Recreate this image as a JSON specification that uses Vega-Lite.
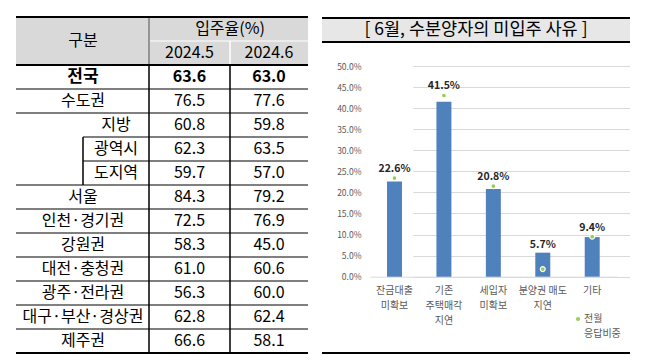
{
  "$schema": "https://vega.github.io/schema/vega-lite/v6.json",
  "padding": {"left": 15, "top": 16, "right": 0, "bottom": 0},
  "background": "white",
  "config": {
    "view": {"stroke": null},
    "font": "Noto Sans CJK KR",
    "style": {"guide-label": {"lineHeight": 15}},
    "axisY": {
      "title": null, "format": ".1%", "grid": true, "gridColor": "#d9d9d9", "domain": false,
      "ticks": false, "tickSize": 0, "labelPadding": 4, "offset": -43, "labelOverlap": false,
      "labelFontSize": 8.5, "labelColor": "#595959", "tickCount": 20
    },
    "axisX": {
      "title": null, "labelAngle": 0, "ticks": false, "tickSize": 0,
      "labelFontSize": 10, "labelColor": "#595959", "labelPadding": 9,
      "labelLineHeight": 15, "labelOverlap": false,
      "domainColor": "#d9d9d9", "offset": -75.3
    }
  },
  "datasets": {
    "regions": [
      {"구분": "전국", "m5": 63.6, "m6": 63.0, "lv": 0},
      {"구분": "수도권", "m5": 76.5, "m6": 77.6, "lv": 0},
      {"구분": "지방", "m5": 60.8, "m6": 59.8, "lv": 1},
      {"구분": "광역시", "m5": 62.3, "m6": 63.5, "lv": 2},
      {"구분": "도지역", "m5": 59.7, "m6": 57.0, "lv": 2},
      {"구분": "서울", "m5": 84.3, "m6": 79.2, "lv": 0},
      {"구분": "인천·경기권", "m5": 72.5, "m6": 76.9, "lv": 0},
      {"구분": "강원권", "m5": 58.3, "m6": 45.0, "lv": 0},
      {"구분": "대전·충청권", "m5": 61.0, "m6": 60.6, "lv": 0},
      {"구분": "광주·전라권", "m5": 56.3, "m6": 60.0, "lv": 0},
      {"구분": "대구·부산·경상권", "m5": 62.8, "m6": 62.4, "lv": 0},
      {"구분": "제주권", "m5": 66.6, "m6": 58.1, "lv": 0}
    ],
    "reasons": [
      {"cat": "잔금대출\n미확보", "v": 0.226, "p": 0.234},
      {"cat": "기존\n주택매각\n지연", "v": 0.415, "p": 0.43},
      {"cat": "세입자\n미확보", "v": 0.208, "p": 0.215},
      {"cat": "분양권 매도\n지연", "v": 0.057, "p": 0.018},
      {"cat": "기타", "v": 0.094, "p": 0.095}
    ]
  },
  "spacing": 13,
  "resolve": {"legend": {"color": "independent"}},
  "hconcat": [
    {
      "width": 292,
      "height": 336,
      "data": {"name": "regions"},
      "layer": [
        {
          "data": {"values": [{}]},
          "mark": {"type": "rect", "color": "#d9d9d9"},
          "encoding": {
            "x": {"datum": 0, "type": "quantitative", "axis": null,
                  "scale": {"domain": [0, 1, 2, 3, 4], "range": [0, 67, 133, 214, 292], "nice": false, "zero": false}},
            "x2": {"datum": 4},
            "y": {"datum": "h1", "type": "nominal", "axis": null,
                  "scale": {"domain": ["h1", "h2", "전국", "수도권", "지방", "광역시", "도지역", "서울", "인천·경기권", "강원권", "대전·충청권", "광주·전라권", "대구·부산·경상권", "제주권"], "paddingInner": 0, "paddingOuter": 0}}
          }
        },
        {
          "data": {"values": [{}]},
          "mark": {"type": "rect", "color": "#d9d9d9"},
          "encoding": {
            "x": {"datum": 0, "type": "quantitative"},
            "x2": {"datum": 4},
            "y": {"datum": "h2", "type": "nominal"}
          }
        },
        {
          "data": {"values": [{}]},
          "mark": {"type": "rule", "color": "white", "strokeWidth": 1},
          "encoding": {
            "x": {"datum": 2, "type": "quantitative"},
            "x2": {"datum": 4},
            "y": {"datum": "h2", "type": "nominal", "bandPosition": 0}
          }
        },
        {
          "data": {"values": [{}]},
          "mark": {"type": "rect", "fill": null, "stroke": "white", "strokeWidth": 1},
          "encoding": {
            "x": {"datum": 3, "type": "quantitative"},
            "x2": {"datum": 3},
            "y": {"datum": "h2", "type": "nominal"}
          }
        },
        {
          "data": {"values": [{"h": "h1"}, {"h": "h2"}]},
          "mark": {"type": "rect", "fill": null, "stroke": "#7f7f7f", "strokeWidth": 1},
          "encoding": {
            "x": {"datum": 2, "type": "quantitative"},
            "x2": {"datum": 2},
            "y": {"field": "h", "type": "nominal"}
          }
        },
        {
          "data": {"values": [{}]},
          "mark": {"type": "text", "text": "구분", "fontSize": 16, "color": "black", "baseline": "middle"},
          "encoding": {
            "x": {"datum": 1, "type": "quantitative"},
            "y": {"datum": "h2", "type": "nominal", "bandPosition": 0}
          }
        },
        {
          "data": {"values": [{}]},
          "mark": {"type": "text", "text": "입주율(%)", "fontSize": 16, "color": "black", "baseline": "middle"},
          "encoding": {
            "x": {"datum": 3, "type": "quantitative"},
            "y": {"datum": "h1", "type": "nominal"}
          }
        },
        {
          "data": {"values": [{}]},
          "mark": {"type": "text", "text": "2024.5", "fontSize": 16, "color": "black", "baseline": "middle"},
          "encoding": {
            "x": {"datum": 2.5, "type": "quantitative"},
            "y": {"datum": "h2", "type": "nominal"}
          }
        },
        {
          "data": {"values": [{}]},
          "mark": {"type": "text", "text": "2024.6", "fontSize": 16, "color": "black", "baseline": "middle"},
          "encoding": {
            "x": {"datum": 3.5, "type": "quantitative"},
            "y": {"datum": "h2", "type": "nominal"}
          }
        },
        {
          "data": {"values": [{}]},
          "mark": {"type": "rule", "color": "black", "strokeWidth": 2},
          "encoding": {
            "x": {"datum": 0, "type": "quantitative"},
            "x2": {"datum": 4},
            "y": {"datum": "h1", "type": "nominal", "bandPosition": 0}
          }
        },
        {
          "mark": {"type": "rect", "fill": null, "stroke": "black", "strokeWidth": 1},
          "encoding": {
            "x": {"datum": 2, "type": "quantitative"},
            "x2": {"datum": 2},
            "y": {"field": "구분", "type": "nominal"}
          }
        },
        {
          "mark": {"type": "rect", "fill": null, "stroke": "black", "strokeWidth": 1},
          "encoding": {
            "x": {"datum": 3, "type": "quantitative"},
            "x2": {"datum": 3},
            "y": {"field": "구분", "type": "nominal"}
          }
        },
        {
          "transform": [{"filter": "datum.lv === 2"}],
          "mark": {"type": "rect", "fill": null, "stroke": "black", "strokeWidth": 1},
          "encoding": {
            "x": {"datum": 1, "type": "quantitative"},
            "x2": {"datum": 1},
            "y": {"field": "구분", "type": "nominal"}
          }
        },
        {
          "transform": [{"filter": "datum.lv < 2 && datum['구분'] !== '전국'"}],
          "mark": {"type": "rule", "color": "black", "strokeWidth": 1},
          "encoding": {
            "x": {"datum": 0, "type": "quantitative"},
            "x2": {"datum": 4},
            "y": {"field": "구분", "type": "nominal", "bandPosition": 0}
          }
        },
        {
          "transform": [{"filter": "datum.lv === 2"}],
          "mark": {"type": "rule", "color": "black", "strokeWidth": 1},
          "encoding": {
            "x": {"datum": 1, "type": "quantitative"},
            "x2": {"datum": 4},
            "y": {"field": "구분", "type": "nominal", "bandPosition": 0}
          }
        },
        {
          "transform": [{"filter": "datum['구분'] === '전국'"}],
          "mark": {"type": "rule", "color": "black", "strokeWidth": 2},
          "encoding": {
            "x": {"datum": 0, "type": "quantitative"},
            "x2": {"datum": 4},
            "y": {"field": "구분", "type": "nominal", "bandPosition": 0}
          }
        },
        {
          "transform": [{"filter": "datum['구분'] === '제주권'"}],
          "mark": {"type": "rule", "color": "black", "strokeWidth": 2},
          "encoding": {
            "x": {"datum": 0, "type": "quantitative"},
            "x2": {"datum": 4},
            "y": {"field": "구분", "type": "nominal", "bandPosition": 1}
          }
        },
        {
          "transform": [{"filter": "datum.lv === 0 && datum['구분'] !== '전국'"}],
          "mark": {"type": "text", "fontSize": 16, "color": "black", "baseline": "middle"},
          "encoding": {
            "x": {"datum": 1, "type": "quantitative"},
            "y": {"field": "구분", "type": "nominal"},
            "text": {"field": "구분", "type": "nominal"}
          }
        },
        {
          "transform": [{"filter": "datum.lv > 0"}],
          "mark": {"type": "text", "fontSize": 16, "color": "black", "baseline": "middle"},
          "encoding": {
            "x": {"datum": 1.5, "type": "quantitative"},
            "y": {"field": "구분", "type": "nominal"},
            "text": {"field": "구분", "type": "nominal"}
          }
        },
        {
          "transform": [{"filter": "datum['구분'] === '전국'"}],
          "mark": {"type": "text", "fontSize": 17, "fontWeight": "bold", "color": "black", "baseline": "middle"},
          "encoding": {
            "x": {"datum": 1, "type": "quantitative"},
            "y": {"field": "구분", "type": "nominal"},
            "text": {"field": "구분", "type": "nominal"}
          }
        },
        {
          "transform": [{"filter": "datum['구분'] !== '전국'"}],
          "mark": {"type": "text", "fontSize": 16, "color": "black", "baseline": "middle"},
          "encoding": {
            "x": {"datum": 2.5, "type": "quantitative"},
            "y": {"field": "구분", "type": "nominal"},
            "text": {"field": "m5", "type": "quantitative", "format": ".1f"}
          }
        },
        {
          "transform": [{"filter": "datum['구분'] !== '전국'"}],
          "mark": {"type": "text", "fontSize": 16, "color": "black", "baseline": "middle"},
          "encoding": {
            "x": {"datum": 3.5, "type": "quantitative"},
            "y": {"field": "구분", "type": "nominal"},
            "text": {"field": "m6", "type": "quantitative", "format": ".1f"}
          }
        },
        {
          "transform": [{"filter": "datum['구분'] === '전국'"}],
          "mark": {"type": "text", "fontSize": 16, "fontWeight": "bold", "color": "black", "baseline": "middle"},
          "encoding": {
            "x": {"datum": 2.5, "type": "quantitative"},
            "y": {"field": "구분", "type": "nominal"},
            "text": {"field": "m5", "type": "quantitative", "format": ".1f"}
          }
        },
        {
          "transform": [{"filter": "datum['구분'] === '전국'"}],
          "mark": {"type": "text", "fontSize": 16, "fontWeight": "bold", "color": "black", "baseline": "middle"},
          "encoding": {
            "x": {"datum": 3.5, "type": "quantitative"},
            "y": {"field": "구분", "type": "nominal"},
            "text": {"field": "m6", "type": "quantitative", "format": ".1f"}
          }
        }
      ]
    },
    {
      "spacing": 0,
      "resolve": {"legend": {"color": "independent"}},
      "vconcat": [
        {
          "width": 308, "height": 2,
          "data": {"values": [{}]},
          "mark": {"type": "rect", "color": "black"},
          "encoding": {}
        },
        {
          "width": 308, "height": 22,
          "data": {"values": [{}]},
          "layer": [
            {"mark": {"type": "rect", "color": "#e7e7e7"}, "encoding": {}},
            {
              "mark": {"type": "text", "text": "[ 6월, 수분양자의   미입주   사유 ]", "fontSize": 17.5, "color": "black", "baseline": "middle"},
              "encoding": {}
            }
          ]
        },
        {
          "width": 308, "height": 2,
          "data": {"values": [{}]},
          "mark": {"type": "rect", "color": "black"},
          "encoding": {}
        },
        {
          "width": 308, "height": 309,
          "data": {"name": "reasons"},
          "encoding": {
            "x": {
              "field": "cat", "type": "nominal", "sort": null,
              "scale": {"range": [47.7, 295], "paddingInner": 0.697, "paddingOuter": 0.35},
              "axis": {"labelExpr": "split(datum.label, '\\n')"}
            }
          },
          "layer": [
            {
              "mark": {"type": "bar", "color": "#4f81bd"},
              "encoding": {
                "y": {
                  "field": "v", "type": "quantitative",
                  "scale": {"domain": [0, 0.5], "range": [233.7, 23], "nice": false},
                  "axis": {"values": [0, 0.05, 0.1, 0.15, 0.2, 0.25, 0.3, 0.35, 0.4, 0.45, 0.5], "tickCount": 20}
                }
              }
            },
            {
              "mark": {"type": "point", "filled": true, "stroke": "white", "strokeWidth": 1.2, "size": 24, "opacity": 1},
              "encoding": {
                "y": {"field": "p", "type": "quantitative"},
                "color": {
                  "datum": "전월\n응답비중",
                  "scale": {"range": ["#92d050"]},
                  "legend": {
                    "orient": "none", "legendX": 251, "legendY": 271, "title": null,
                    "padding": 0, "symbolSize": 16, "symbolType": "circle", "symbolStrokeWidth": 0,
                    "labelFontSize": 10, "labelColor": "#595959", "labelOffset": 1,
                    "labelExpr": "split(datum.label, '\\n')"
                  }
                }
              }
            },
            {
              "transform": [{"filter": "datum.p >= datum.v"}],
              "mark": {"type": "text", "fontSize": 10.5, "fontWeight": "bold", "color": "#262626", "baseline": "middle", "dy": -9},
              "encoding": {
                "y": {"field": "p", "type": "quantitative"},
                "text": {"field": "v", "type": "quantitative", "format": ".1%"}
              }
            },
            {
              "transform": [{"filter": "datum.p < datum.v"}],
              "mark": {"type": "text", "fontSize": 10.5, "fontWeight": "bold", "color": "#262626", "baseline": "middle", "dy": -8},
              "encoding": {
                "y": {"field": "v", "type": "quantitative"},
                "text": {"field": "v", "type": "quantitative", "format": ".1%"}
              }
            }
          ]
        },
        {
          "width": 308, "height": 2,
          "data": {"values": [{}]},
          "mark": {"type": "rect", "color": "black"},
          "encoding": {}
        }
      ]
    }
  ]
}
